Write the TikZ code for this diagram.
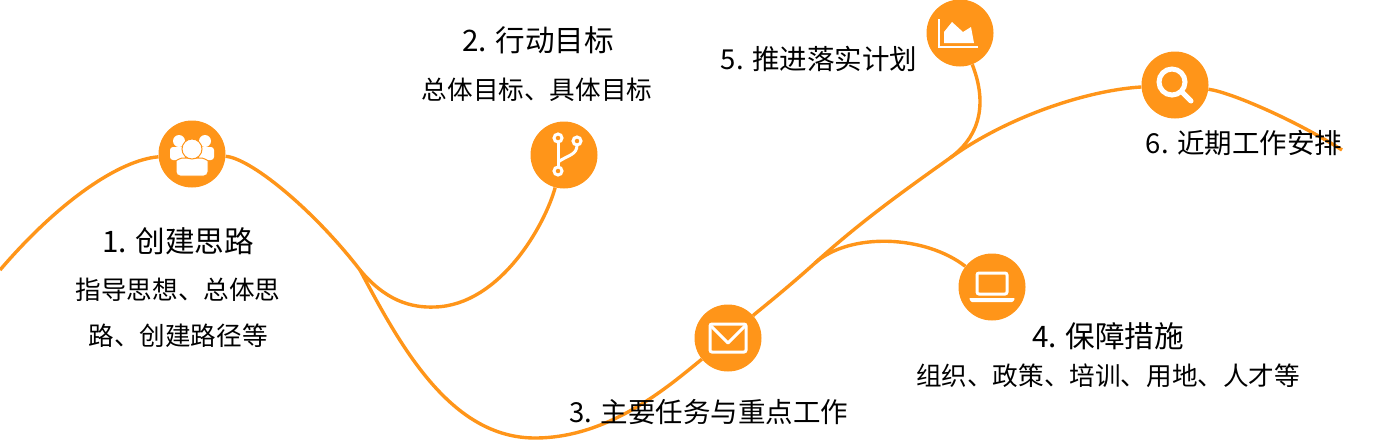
\documentclass[tikz,border=0pt]{standalone}
\usepackage{fontspec}
\setmainfont{Noto Sans CJK SC}
\usetikzlibrary{calc}
\definecolor{roadorange}{HTML}{FF9519}

\begin{document}
\begin{tikzpicture}[x=1pt, y=-1pt,
  stop/.style = {circle, fill=roadorange, inner sep=0, minimum size=67pt},
  road/.style = {draw=roadorange, line width=3.4pt},
  title/.style = {align=center, inner sep=0, font=\fontsize{29.6}{29.6}\selectfont},
  longtitle/.style = {align=center, inner sep=0, font=\fontsize{27.5}{27.5}\selectfont},
  sub/.style = {align=center, inner sep=0, font=\fontsize{25.6}{25.6}\selectfont},
  icon/.style = {draw=white, line width=3pt, fill=none},
  hole/.style = {fill=roadorange, draw=white, line width=3pt},
  person/.style = {fill=white, draw=roadorange, line width=1pt}]

\useasboundingbox (0,0) rectangle (1386,445);

\node[stop](1) at (192,154){};
\node[stop](2) at (564,155){};
\node[stop](3) at (728,338){};
\node[stop](4) at (992,287){};
\node[stop](5) at (960,33){};
\node[stop](6) at (1175,85){};

\coordinate (start) at (0,270);
\coordinate (split) at (360,270);
\coordinate (dip) at (435,307);
\coordinate (low) at (535,438);
\coordinate (fork4) at (815,263);
\coordinate (fork5) at (950,158);
\coordinate (end) at (1342,150);

\draw [road] (start) .. controls (60,200) and (120,160) .. (1);
\draw [road] (1) .. controls (250,158) and (312,208) .. (split);
\draw [road] (split) .. controls (400,345) and (450,438) .. (low);
\draw [road] (low) .. controls (610,438) and (670,385) .. (3);
\draw [road] (split) .. controls (385,300) and (410,308) .. (dip);
\draw [road] (dip) .. controls (500,305) and (545,225) .. (2);
\draw [road] (3) .. controls (757,312) and (785,290) .. (fork4);
\draw [road] (fork4) .. controls (860,222) and (905,190) .. (fork5);
\draw [road] (fork5) .. controls (1010,115) and (1090,90) .. (6);
\draw [road] (6) .. controls (1230,92) and (1295,120) .. (end);
\draw [road] (fork4) .. controls (850,232) and (925,235) .. (4);
\draw [road] (fork5) .. controls (975,140) and (990,110) .. (5);

% people
\begin{scope}[shift={(1)}]
\fill[white, rounded corners=3pt] (-22,6) -- (-22,-7) -- (-7,-7) -- (-7,6) -- cycle;
\fill[white, rounded corners=3pt] (22,6) -- (22,-7) -- (7,-7) -- (7,6) -- cycle;
\fill[white] (-13,-13) circle (6);
\fill[white] (13,-13) circle (6);
\path[person, rounded corners=4pt] (-16,22) -- (-16,11) .. controls (-16,6) and (-10,4) .. (-6,4) -- (6,4) .. controls (10,4) and (16,6) .. (16,11) -- (16,22) -- cycle;
\path[person] (0,-5) circle (10);
\end{scope}

% branch
\begin{scope}[shift={(2)}]
\draw[icon] (-6,-13) -- (-6,13);
\draw[icon] (13,-10) .. controls (13,0) and (4,0) .. (-6,7);
\path[hole] (-6,-17) circle (4);
\path[hole] (13,-14) circle (4);
\path[hole] (-6,16) circle (4);
\end{scope}

% envelope
\begin{scope}[shift={(3)}]
\draw[icon, rounded corners=2pt] (-18,-14) rectangle (18,14);
\draw[icon, line join=round] (-17,-12) -- (0,5) -- (17,-12);
\end{scope}

% laptop
\begin{scope}[shift={(4)}]
\draw[icon, rounded corners=2pt] (-15,-14) rectangle (15,7);
\fill[white, rounded corners=1pt] (-23,11) -- (23,11) -- (21,15) -- (-21,15) -- cycle;
\end{scope}

% chart
\begin{scope}[shift={(5)}]
\draw[white, line width=2.2pt] (-21,-14) -- (-21,14) -- (18,14);
\fill[white] (-16,10) -- (-16,-1) -- (-8,-11) -- (3,-1) -- (11,-6) -- (14,10) -- cycle;
\end{scope}

% magnifier
\begin{scope}[shift={(6)}]
\draw[white, line width=5pt] (-3,-3) circle (13);
\draw[white, line width=5pt, line cap=round] (7,7) -- (16,16);
\end{scope}

\node[title](t1) at (178,241){1. 创建思路};
\node[sub](s1a) at (178,290){指导思想、总体思};
\node[sub](s1b) at (178,336){路、创建路径等};
\node[title](t2) at (538,40){2. 行动目标};
\node[sub](s2) at (537,90){总体目标、具体目标};
\node[longtitle](t3) at (709,412){3. 主要任务与重点工作};
\node[title](t4) at (1108,336){4. 保障措施};
\node[sub](s4) at (1108,376){组织、政策、培训、用地、人才等};
\node[longtitle](t5) at (819,59){5. 推进落实计划};
\node[longtitle](t6) at (1244,143){6. 近期工作安排};

\end{tikzpicture}
\end{document}
